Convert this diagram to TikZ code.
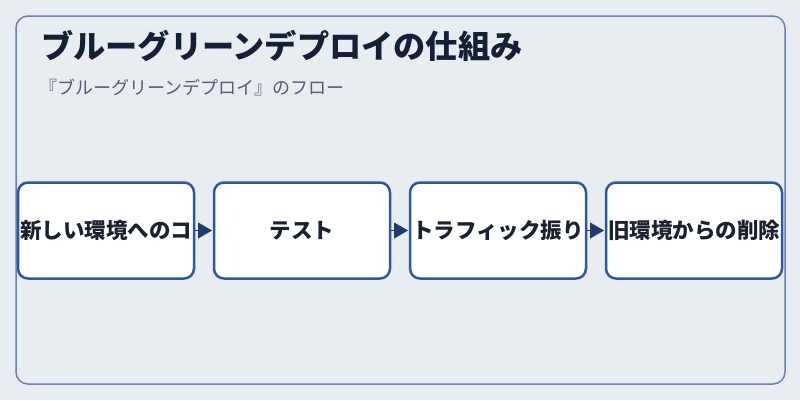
\documentclass[tikz,border=0pt]{standalone}
\usepackage{fontspec}
\setmainfont{Noto Sans CJK JP}
\usetikzlibrary{positioning,arrows.meta}
\definecolor{pagebg}{HTML}{E8EDF2}
\definecolor{framec}{HTML}{6A83B3}
\definecolor{boxc}{HTML}{3157A0}
\definecolor{arrowc}{HTML}{1F3A6E}
\definecolor{titlec}{HTML}{142036}
\definecolor{subc}{HTML}{4F5F78}
\definecolor{textc}{HTML}{1A2130}

\begin{document}
\begin{tikzpicture}[x=1pt, y=-1pt,
    stepbox/.style={draw=boxc, line width=2.5pt, fill=white, rounded corners=10pt,
      minimum width=176pt, minimum height=96pt, inner sep=0pt, outer sep=0pt,
      text=textc, font=\fontsize{21.5}{24}\selectfont\bfseries},
    flow/.style={draw=arrowc, line width=1pt, shorten >=2pt,
      -{Triangle[length=14pt, width=16pt]}, fill=arrowc}]
    \fill[pagebg] (0,0) rectangle (800,400);
    \draw[framec, line width=1.5pt, rounded corners=12pt] (16,16) rectangle (785,384);

    % title and subtitle
    \node[anchor=base west, inner sep=0pt, text=titlec,
      font=\fontsize{32.2}{36}\selectfont\bfseries] (title) at (41,58) {ブルーグリーンデプロイの仕組み};
    \node[anchor=base west, inner sep=0pt, text=subc,
      font=\fontsize{18}{20}\selectfont] (sub) at (39,94.5) {『ブルーグリーンデプロイ』のフロー};

    % steps
    \node[stepbox] (copy) at (106,230.5) {新しい環境へのコ};
    \node[stepbox, right=20pt of copy] (test) {テスト};
    \node[stepbox, right=20pt of test] (switch) {トラフィック振り};
    \node[stepbox, right=20pt of switch] (remove) {旧環境からの削除};

    \draw[flow] (copy) -- (test);
    \draw[flow] (test) -- (switch);
    \draw[flow] (switch) -- (remove);
\end{tikzpicture}
\end{document}
